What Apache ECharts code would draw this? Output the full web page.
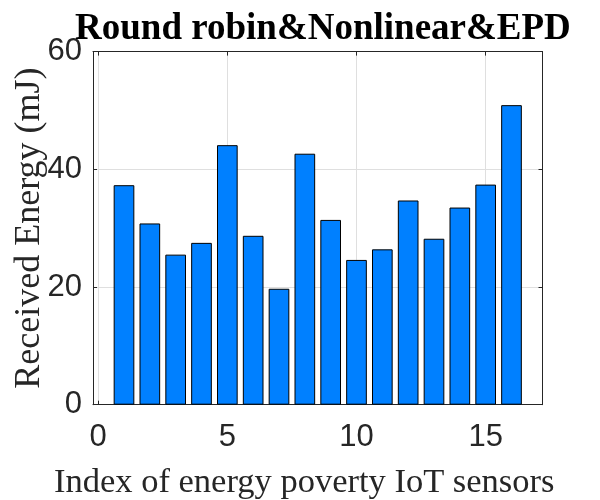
<!DOCTYPE html>
<html><head><meta charset="utf-8">
<script src="https://cdn.jsdelivr.net/npm/echarts@6/dist/echarts.min.js"></script>
<style>html,body{margin:0;padding:0;background:#fff}#c{width:600px;height:500px}</style>
</head><body><div id="c"></div>
<script>
const sensorIndex = [1,2,3,4,5,6,7,8,9,10,11,12,13,14,15,16];
const receivedEnergy = [37.3,30.8,25.5,27.5,44.1,28.7,19.7,42.65,31.4,24.6,26.4,34.7,28.2,33.5,37.4,50.9];
const yTicks = [0,20,40,60];
const xTicks = [0,5,10,15];

const titleText = 'Round robin&Nonlinear&EPD';
const xLabel = 'Index of energy poverty IoT sensors';
const yLabel = 'Received Energy (mJ)';

const L = 93, R = 542.5, T = 51.6, B = 404.7;
const xMin = -0.2, xMax = 17.2;
const pxPerUnit = (R - L) / (xMax - xMin);
const axisColor = '#262626';
const gridColor = '#dfdfdf';
const tickFont = {color: axisColor, fontFamily: 'Liberation Sans, Arial, sans-serif', fontSize: 31};

const chart = echarts.init(document.getElementById('c'), null, {renderer: 'canvas'});
chart.setOption({
  animation: false,
  backgroundColor: '#fff',
  title: [
    {text: titleText, left: 70, top: 6, textStyle: {fontFamily: 'Liberation Serif, Times New Roman, serif', fontWeight: 'bold', fontSize: 37, color: '#000'}},
    {text: xLabel, left: 49, top: 460, textStyle: {fontFamily: 'Liberation Serif, Times New Roman, serif', fontWeight: 'normal', fontSize: 34.5, color: axisColor}}
  ],
  grid: [
    {left: L, right: 600 - R, top: T, bottom: 500 - B, show: false, containLabel: false, outerBoundsMode: 'none'},
    {left: L + (0 - xMin) * pxPerUnit, right: 600 - R, top: T, bottom: 500 - B, show: false, containLabel: false, outerBoundsMode: 'none'}
  ],
  xAxis: [
    {gridIndex: 0, type: 'value', min: xMin, max: xMax, position: 'bottom',
     axisLine: {show: true, onZero: false, lineStyle: {color: axisColor, width: 1}},
     axisTick: {show: false}, axisLabel: {show: false}, splitLine: {show: false}},
    {gridIndex: 0, type: 'value', min: xMin, max: xMax, position: 'top',
     axisLine: {show: true, onZero: false, lineStyle: {color: axisColor, width: 1}},
     axisTick: {show: false}, axisLabel: {show: false}, splitLine: {show: false}},
    {gridIndex: 1, type: 'value', min: 0, max: xMax, interval: 5, position: 'bottom',
     axisLine: {show: false, onZero: false}, axisTick: {show: true, inside: true, length: 4, lineStyle: {color: axisColor}},
     axisLabel: {show: true, margin: 17, showMaxLabel: false, ...tickFont, formatter: v => xTicks.includes(v) ? String(v) : ''},
     splitLine: {show: true, lineStyle: {color: gridColor, width: 1}}},
    {gridIndex: 1, type: 'value', min: 0, max: xMax, interval: 5, position: 'top',
     axisLine: {show: false, onZero: false}, axisTick: {show: true, inside: true, length: 4, lineStyle: {color: axisColor}},
     axisLabel: {show: false}, splitLine: {show: false}}
  ],
  yAxis: [
    {gridIndex: 0, type: 'value', min: 0, max: 60, interval: 20, position: 'left',
     name: yLabel, nameLocation: 'middle', nameGap: 45, nameRotate: 90, nameMoveOverlap: false,
     nameTextStyle: {fontFamily: 'Liberation Serif, Times New Roman, serif', fontSize: 36, color: axisColor},
     axisLine: {show: true, onZero: false, lineStyle: {color: axisColor, width: 1}},
     axisTick: {show: true, inside: true, length: 4, lineStyle: {color: axisColor}},
     axisLabel: {show: true, margin: 11, ...tickFont, formatter: v => yTicks.includes(v) ? String(v) : ''},
     splitLine: {show: true, lineStyle: {color: gridColor, width: 1}}},
    {gridIndex: 0, type: 'value', min: 0, max: 60, interval: 20, position: 'right',
     axisLine: {show: true, onZero: false, lineStyle: {color: axisColor, width: 1}},
     axisTick: {show: true, inside: true, length: 4, lineStyle: {color: axisColor}},
     axisLabel: {show: false}, splitLine: {show: false}},
    {gridIndex: 1, type: 'value', min: 0, max: 60, show: false}
  ],
  series: [{
    type: 'bar', xAxisIndex: 0, yAxisIndex: 0,
    data: sensorIndex.map((x, i) => [x, receivedEnergy[i]]),
    barWidth: 0.8 * pxPerUnit,
    itemStyle: {color: '#0080ff', borderColor: '#000', borderWidth: 1},
    z: 5
  }]
});
</script></body></html>
